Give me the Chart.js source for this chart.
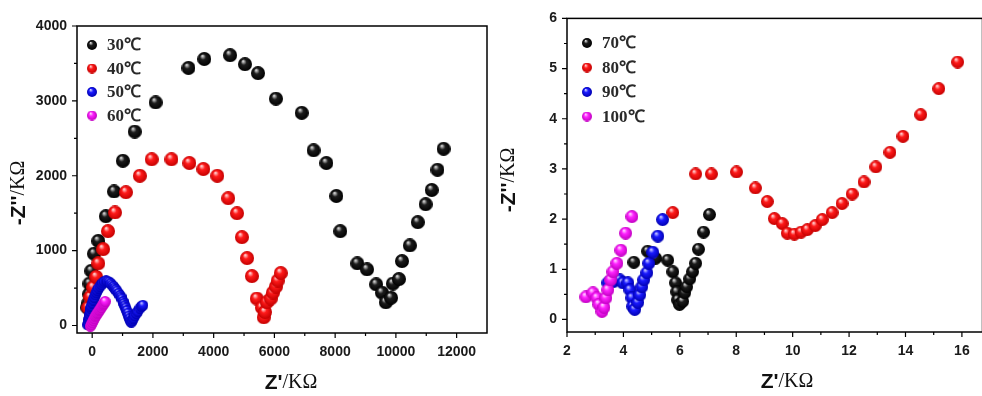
<!DOCTYPE html>
<html>
<head>
<meta charset="utf-8">
<script src="https://cdn.jsdelivr.net/npm/chart.js@4.4.0/dist/chart.umd.min.js"></script>
<style>
  html, body { margin: 0; padding: 0; background: #fff; overflow: hidden; width: 982px; height: 396px; }
  canvas { position: absolute; top: 0; }
  #leftChart { left: 0; }
  #rightChart { left: 495px; }
</style>
</head>
<body>
<canvas id="leftChart" width="495" height="396"></canvas>
<canvas id="rightChart" width="495" height="396"></canvas>
<script>
// ---- left panel: Z' / Z'' in KΩ, 30..60 ℃ ----
const leftLabels = ["30\u2103", "40\u2103", "50\u2103", "60\u2103"];
const t30 = [[-160,240],[-130,300],[-100,420],[-90,560],[-30,730],[60,960],[200,1130],[450,1460],[720,1790],
  [1010,2200],[1400,2590],[2090,2980],[3170,3440],[3690,3560],[4540,3610],[5030,3490],[5460,3370],[6050,3030],
  [6900,2840],[7290,2340],[7710,2170],[8040,1730],[8170,1260],[8730,830],[9050,750],[9350,550],[9540,440],
  [9670,310],[9840,370],[9900,560],[10100,620],[10200,860],[10460,1070],[10720,1380],[10980,1620],[11180,1810],
  [11370,2080],[11570,2360]];
const t40 = [[-130,240],[-60,380],[30,510],[130,650],[200,830],[360,1020],[520,1260],[750,1510],[1110,1780],
  [1570,2000],[1960,2220],[2610,2220],[3200,2170],[3660,2090],[4120,2000],[4480,1700],[4770,1500],[4930,1180],
  [5100,900],[5260,660],[5420,360],[5590,240],[5650,110],[5690,180],[5750,310],[5880,360],[5950,440],[6050,520],
  [6110,600],[6210,700]];
const t50 = [[-150,10],[-130,40],[-110,80],[-98,110],[-80,150],[-65,190],[-45,230],[-33,260],[0,300],[30,340],
  [65,375],[100,410],[131,440],[163,470],[210,500],[261,525],[300,550],[350,570],[400,585],[458,595],[510,590],
  [556,580],[610,560],[654,540],[700,520],[735,500],[780,480],[817,460],[870,430],[915,400],[950,380],[980,355],
  [1020,320],[1046,295],[1080,265],[1111,235],[1140,200],[1176,165],[1200,125],[1230,90],[1260,60],[1290,45],
  [1320,70],[1350,100],[1400,130],[1450,160],[1500,190],[1569,230],[1620,255],[1667,270]];
const t60 = [[-60,-10],[-33,13],[0,40],[33,67],[65,95],[98,120],[130,140],[163,161],[196,180],[229,201],
  [260,220],[294,241],[325,262],[359,281],[390,300],[425,321]];
const leftXTicks = [0, 2000, 4000, 6000, 8000, 10000, 12000];
const leftXMinor = [1000, 3000, 5000, 7000, 9000, 11000, 13000];
const leftYTicks = [0, 1000, 2000, 3000, 4000];
const leftYMinor = [500, 1500, 2500, 3500];

// ---- right panel: 70..100 ℃ ----
const rightLabels = ["70\u2103", "80\u2103", "90\u2103", "100\u2103"];
const t70 = [[4.37,1.14],[4.86,1.36],[5.14,1.22],[5.57,1.18],[5.75,0.95],[5.85,0.73],[5.89,0.55],[5.92,0.39],
  [5.99,0.30],[6.10,0.36],[6.17,0.53],[6.24,0.65],[6.35,0.81],[6.45,0.95],[6.56,1.12],[6.66,1.40],[6.84,1.74],[7.05,2.09]];
const t80 = [[5.75,2.13],[6.56,2.90],[7.12,2.90],[8.01,2.94],[8.68,2.62],[9.10,2.35],[9.35,2.01],[9.63,1.91],
  [9.81,1.72],[10.06,1.70],[10.30,1.74],[10.52,1.79],[10.80,1.87],[11.05,1.99],[11.40,2.13],[11.75,2.31],
  [12.11,2.50],[12.53,2.74],[12.95,3.04],[13.45,3.33],[13.91,3.65],[14.54,4.08],[15.18,4.60],[15.85,5.13]];
const t90 = [[3.45,0.73],[3.63,0.75],[3.87,0.79],[3.98,0.73],[4.16,0.73],[4.23,0.59],[4.30,0.43],[4.33,0.26],
  [4.40,0.20],[4.51,0.34],[4.58,0.49],[4.65,0.65],[4.72,0.79],[4.83,0.93],[4.90,1.12],[5.04,1.34],[5.22,1.66],[5.39,1.99]];
const t100 = [[2.67,0.45],[2.92,0.53],[3.06,0.43],[3.13,0.30],[3.24,0.16],[3.31,0.24],[3.38,0.43],[3.45,0.59],
  [3.55,0.79],[3.63,0.95],[3.77,1.12],[3.91,1.38],[4.08,1.72],[4.30,2.05]];
const rightXTicks = [2, 4, 6, 8, 10, 12, 14, 16];
const rightXMinor = [3, 5, 7, 9, 11, 13, 15];
const rightYTicks = [0, 1, 2, 3, 4, 5, 6];
const rightYMinor = [0.5, 1.5, 2.5, 3.5, 4.5, 5.5];

// shaded ball markers
const palette = [
  ["#e0e0e0", "#1c1c1c", "#000000"],
  ["#ffdcdc", "#ff1a1a", "#c40000"],
  ["#d0d0ff", "#1a1aff", "#0000b0"],
  ["#ffdcff", "#ff22ff", "#c000c0"]
];

function ball(cols, d) {
  const c = document.createElement("canvas");
  c.width = c.height = d;
  const g = c.getContext("2d");
  const r = d / 2;
  const grad = g.createRadialGradient(r * 0.72, r * 0.55, r * 0.05, r, r, r);
  grad.addColorStop(0, cols[0]);
  grad.addColorStop(0.38, cols[1]);
  grad.addColorStop(1, cols[2]);
  g.fillStyle = grad;
  g.beginPath();
  g.arc(r, r, r, 0, Math.PI * 2);
  g.fill();
  return c;
}

const toPts = (arr) => arr.map(p => ({ x: p[0], y: p[1] }));

function drawTitle(ctx, parts, cx, cy, rot) {
  ctx.save();
  ctx.translate(cx, cy);
  ctx.rotate(rot);
  let w = 0;
  parts.forEach(p => { ctx.font = p.f; w += ctx.measureText(p.t).width; });
  let x = -w / 2;
  ctx.fillStyle = "#111";
  ctx.textBaseline = "middle";
  ctx.textAlign = "left";
  parts.forEach(p => { ctx.font = p.f; ctx.fillText(p.t, x, 0); x += ctx.measureText(p.t).width; });
  ctx.restore();
}

function decor(cfg) {
  return {
    id: "decor",
    beforeDatasetsDraw(chart) {
      const { ctx, chartArea: a, scales } = chart;
      ctx.save();
      ctx.strokeStyle = "#000";
      ctx.lineWidth = 1.5;
      ctx.strokeRect(a.left, a.top, a.right - a.left, a.bottom - a.top);
      ctx.lineWidth = 1.2;
      ctx.beginPath();
      cfg.xTicks.forEach(v => { const px = scales.x.getPixelForValue(v); ctx.moveTo(px, a.bottom); ctx.lineTo(px, a.bottom + 5); });
      cfg.xMinor.forEach(v => { const px = scales.x.getPixelForValue(v); if (px < a.right) { ctx.moveTo(px, a.bottom); ctx.lineTo(px, a.bottom + 3); } });
      cfg.yTicks.forEach(v => { const py = scales.y.getPixelForValue(v); ctx.moveTo(a.left, py); ctx.lineTo(a.left - 5, py); });
      cfg.yMinor.forEach(v => { const py = scales.y.getPixelForValue(v); ctx.moveTo(a.left, py); ctx.lineTo(a.left - 3, py); });
      ctx.stroke();
      ctx.restore();
    },
    afterDraw(chart) {
      const ctx = chart.ctx;
      // legend
      ctx.save();
      cfg.labels.forEach((lab, i) => {
        const my = cfg.legY + i * cfg.legStep;
        const b = cfg.legBalls[i];
        ctx.drawImage(b, cfg.legX - b.width / 2, my - b.height / 2);
        ctx.font = "bold 17px 'Liberation Serif', serif";
        ctx.fillStyle = "#2a2a2a";
        ctx.textBaseline = "middle";
        ctx.fillText(lab, cfg.legX + 15, my + 1);
      });
      ctx.restore();
      drawTitle(ctx, [{ t: "Z'", f: "bold 21px 'Liberation Sans'" }, { t: "/K\u03a9", f: "20px 'Liberation Serif'" }],
        cfg.xTitle[0], cfg.xTitle[1], 0);
      drawTitle(ctx, [{ t: "-Z''", f: "bold 21px 'Liberation Sans'" }, { t: "/K\u03a9", f: "20px 'Liberation Serif'" }],
        cfg.yTitle[0], cfg.yTitle[1], -Math.PI / 2);
    }
  };
}

function makeChart(id, series, d, cfg) {
  const datasets = series.map((s, i) => ({
    label: cfg.labels[i],
    data: toPts(s),
    pointStyle: ball(palette[i], d[i]),
    pointRadius: d[i] / 2,
    showLine: false,
    order: series.length - i
  }));
  const tickFont = { family: "'Liberation Sans', Arial", size: 14, weight: "bold" };
  return new Chart(document.getElementById(id), {
    type: "scatter",
    data: { datasets },
    options: {
      responsive: false,
      animation: false,
      layout: { padding: cfg.padding },
      plugins: { legend: { display: false }, tooltip: { enabled: false } },
      scales: {
        x: {
          type: "linear", min: cfg.xMin, max: cfg.xMax,
          grid: { display: false, drawTicks: false },
          border: { display: false },
          afterBuildTicks: s => { s.ticks = cfg.xTicks.map(v => ({ value: v })); },
          afterFit: s => { s.height = cfg.xH; },
          ticks: { font: tickFont, color: "#1a1a1a", padding: 11, maxRotation: 0, callback: v => String(v) }
        },
        y: {
          type: "linear", min: cfg.yMin, max: cfg.yMax,
          grid: { display: false, drawTicks: false },
          border: { display: false },
          afterBuildTicks: s => { s.ticks = cfg.yTicks.map(v => ({ value: v })); },
          afterFit: s => { s.width = cfg.yW; },
          ticks: { font: tickFont, color: "#1a1a1a", padding: 10, callback: v => String(v) }
        }
      }
    },
    plugins: [decor(cfg)]
  });
}

const legendBalls = palette.map(c => ball(c, 10));

makeChart("leftChart", [t30, t40, t50, t60], [14, 14, 11, 11], {
  labels: leftLabels,
  legBalls: legendBalls,
  legX: 92, legY: 45, legStep: 23.5,
  xMin: -500, xMax: 13000, yMin: -100, yMax: 4000,
  xTicks: leftXTicks, xMinor: leftXMinor, yTicks: leftYTicks, yMinor: leftYMinor,
  padding: { left: 0, right: 5, top: 26, bottom: 0 },
  xH: 63, yW: 77,
  xTitle: [291, 383], yTitle: [19, 193]
});

makeChart("rightChart", [t70, t80, t90, t100], [13, 13, 13, 13], {
  labels: rightLabels,
  legBalls: legendBalls,
  legX: 92, legY: 43, legStep: 24.5,
  xMin: 2, xMax: 16.73, yMin: -0.25, yMax: 6,
  xTicks: rightXTicks, xMinor: rightXMinor, yTicks: rightYTicks, yMinor: rightYMinor,
  padding: { left: 0, right: 4, top: 16, bottom: 0 },
  xH: 64, yW: 72,
  xTitle: [292, 382], yTitle: [14, 180]
});
</script>
</body>
</html>
